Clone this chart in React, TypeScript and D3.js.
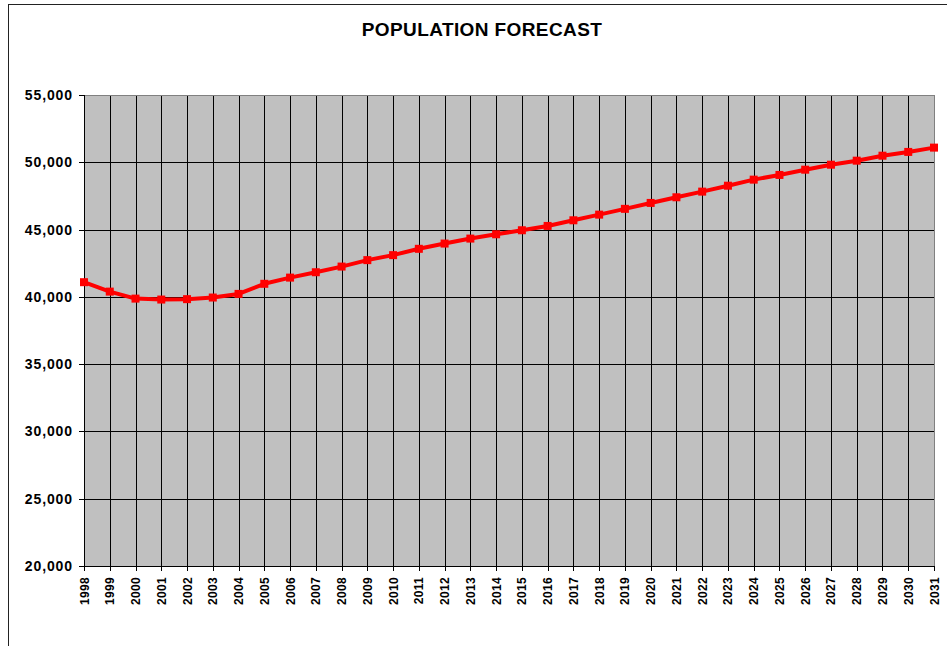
import React from "react";
import * as d3 from "d3";

const years: string[] = [
  "1998","1999","2000","2001","2002","2003","2004","2005","2006","2007","2008",
  "2009","2010","2011","2012","2013","2014","2015","2016","2017","2018","2019",
  "2020","2021","2022","2023","2024","2025","2026","2027","2028","2029","2030","2031",
];
const population: number[] = [
  41090, 40390, 39870, 39800, 39830, 39950, 40220, 40970, 41430, 41830, 42250,
  42730, 43100, 43570, 43960, 44330, 44650, 44950, 45270, 45690, 46110, 46540,
  46980, 47400, 47820, 48260, 48710, 49060, 49450, 49820, 50120, 50490, 50770, 51090,
];
const yTicks: number[] = [20000, 25000, 30000, 35000, 40000, 45000, 50000, 55000];
const title = "POPULATION FORECAST";

export default function App() {
  const W = 947, H = 646;
  const left = 84, right = 934, top = 95, bottom = 566;
  const x = d3.scalePoint<string>().domain(years).range([left, right]);
  const y = d3.scaleLinear().domain([20000, 55000]).range([bottom, top]);
  const fmt = d3.format(",");
  const line = d3.line<number>().x((_, i) => x(years[i])!).y((d) => y(d));
  const font = "Arial, 'Liberation Sans', sans-serif";
  return (
    <svg width={W} height={H} style={{ position: "absolute", left: 0, top: 0 }}>
      <rect x={0} y={0} width={W} height={H} fill="#fff" />
      <rect x={8.5} y={4.5} width={W + 20} height={H + 20} fill="none" stroke="#222" strokeWidth={1} />
      <text x={482} y={36} textAnchor="middle" fontFamily={font} fontWeight="bold" fontSize={19} letterSpacing={0.4}>
        {title}
      </text>
      <rect x={left} y={top} width={right - left} height={bottom - top} fill="#C0C0C0" />
      {yTicks.map((t) => (
        <line key={"h" + t} x1={left} x2={right} y1={Math.round(y(t)) + 0.5} y2={Math.round(y(t)) + 0.5} stroke="#000" strokeWidth={1} />
      ))}
      {years.map((yr) => (
        <line key={"v" + yr} x1={Math.round(x(yr)!) + 0.5} x2={Math.round(x(yr)!) + 0.5} y1={top} y2={bottom} stroke="#000" strokeWidth={1} />
      ))}
      <rect x={left + 0.5} y={top + 0.5} width={right - left} height={bottom - top} fill="none" stroke="#808080" strokeWidth={1} />
      <line x1={left + 0.5} x2={left + 0.5} y1={top} y2={bottom} stroke="#000" />
      <line x1={left} x2={right + 1} y1={bottom + 0.5} y2={bottom + 0.5} stroke="#000" />
      {yTicks.map((t) => (
        <g key={"yt" + t}>
          <line x1={left - 5} x2={left} y1={Math.round(y(t)) + 0.5} y2={Math.round(y(t)) + 0.5} stroke="#000" />
          <text x={73} y={y(t)} dy="0.36em" textAnchor="end" fontFamily={font} fontWeight="bold" fontSize={14} letterSpacing={0.9}>
            {fmt(t)}
          </text>
        </g>
      ))}
      {years.map((yr) => (
        <g key={"xt" + yr}>
          <line x1={Math.round(x(yr)!) + 0.5} x2={Math.round(x(yr)!) + 0.5} y1={bottom} y2={bottom + 5} stroke="#000" />
          <text
            transform={`translate(${x(yr)! + 4.5},577) rotate(-90)`}
            textAnchor="end"
            fontFamily={font}
            fontWeight="bold"
            fontSize={12}
            letterSpacing={0.3}
          >
            {yr}
          </text>
        </g>
      ))}
      <path d={line(population) || ""} fill="none" stroke="#FF0000" strokeWidth={4} strokeLinejoin="round" />
      {population.map((v, i) => (
        <rect key={"m" + i} x={x(years[i])! - 4} y={y(v) - 4} width={8} height={8} fill="#FF0000" />
      ))}
    </svg>
  );
}
